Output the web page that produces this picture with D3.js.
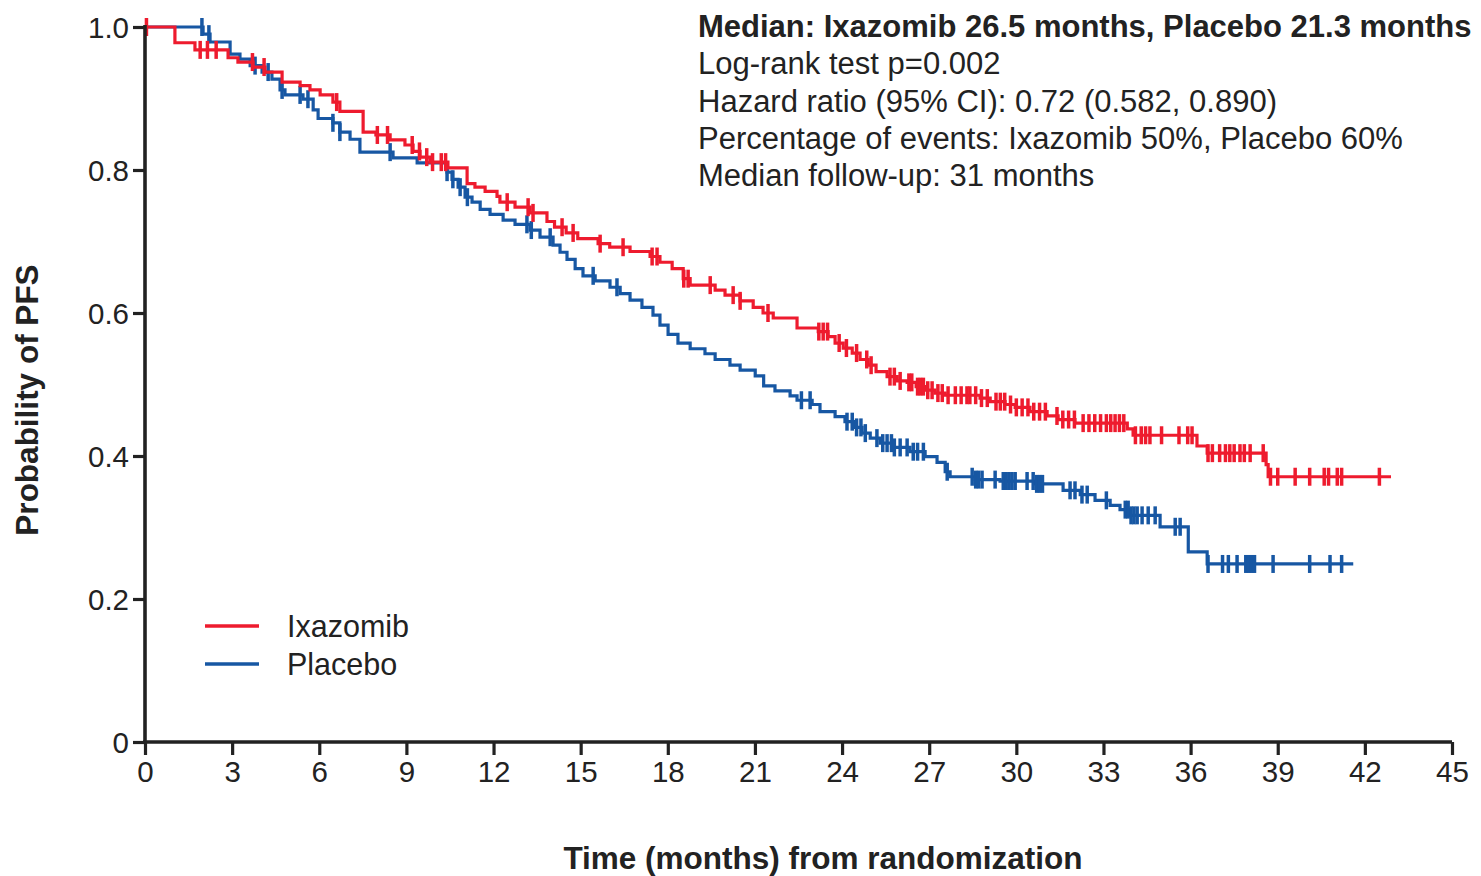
<!DOCTYPE html>
<html>
<head>
<meta charset="utf-8">
<script src="https://cdn.jsdelivr.net/npm/d3@7"></script>
<style>
  html, body { margin: 0; padding: 0; background: #ffffff; }
  svg { display: block; }
  text { font-family: "Liberation Sans", Arial, Helvetica, sans-serif; fill: #222; }
</style>
</head>
<body>
<svg id="chart" width="1481" height="876"></svg>
<script>
// Kaplan–Meier step data: [time (months), survival after the event]
const ixazomibSteps = [
  [1.03,.978],[1.72,.968],[2.86,.957],[3.2,.951],[3.72,.944],[4.13,.937],[4.72,.923],[5.34,.918],
  [5.68,.912],[6.03,.905],[6.47,.895],[6.71,.882],[7.51,.853],[7.95,.849],[8.44,.842],[8.95,.835],
  [9.23,.826],[9.47,.818],[9.81,.811],[10.43,.803],[11.09,.781],[11.36,.776],[11.71,.770],[12.12,.763],
  [12.22,.755],[12.74,.748],[13.26,.740],[13.84,.728],[14.1,.720],[14.5,.712],[14.9,.704],[15.6,.697],
  [16.0,.692],[16.7,.686],[17.39,.679],[17.73,.671],[18.15,.662],[18.53,.648],[18.77,.639],[19.63,.632],
  [19.97,.625],[20.49,.617],[20.94,.608],[21.28,.600],[21.63,.593],[22.45,.579],[23.18,.574],[23.52,.567],
  [23.76,.558],[24.04,.551],[24.35,.544],[24.62,.535],[24.9,.527],[25.17,.518],[25.55,.511],[25.9,.505],
  [26.24,.503],[26.55,.497],[26.9,.492],[27.2,.488],[27.55,.485],[28.75,.481],[29.1,.476],[29.61,.472],
  [29.96,.468],[30.47,.462],[31.06,.456],[31.44,.451],[32.02,.446],[33.82,.438],[34.02,.429],[36.22,.414],
  [36.57,.404],[38.6,.388],[38.67,.371]
];
const ixazomibCensored = [
  0.05,1.9,2.15,2.45,3.7,4.1,6.6,8.0,8.35,9.2,9.45,9.7,9.9,10.2,10.35,12.47,13.19,13.36,14.36,14.74,
  15.67,16.46,17.46,17.63,18.55,18.7,19.46,20.25,20.49,21.45,23.2,23.35,23.5,23.9,24.15,24.5,24.85,25.0,
  25.65,25.8,26.0,26.3,26.4,26.6,26.7,26.8,26.95,27.1,27.3,27.45,27.65,27.9,28.1,28.3,28.4,28.6,28.8,
  29.0,29.3,29.45,29.6,29.8,30.0,30.2,30.4,30.6,30.8,31.0,31.4,31.6,31.8,32.0,32.3,32.5,32.7,32.9,33.1,
  33.25,33.4,33.55,33.7,34.1,34.3,34.45,34.6,35.0,35.6,35.9,36.05,36.6,36.75,37.0,37.2,37.35,37.5,37.7,
  37.85,38.05,38.5,38.75,39.0,39.6,40.1,40.6,40.75,41.05,41.2,42.5
];
const ixazomibLastTime = 42.9;

const placeboSteps = [
  [2.0,.990],[2.24,.979],[2.93,.962],[3.27,.955],[3.62,.946],[4.03,.937],[4.37,.927],[4.65,.912],
  [4.82,.905],[5.44,.899],[5.79,.884],[5.96,.872],[6.47,.866],[6.71,.853],[7.06,.843],[7.4,.825],
  [8.54,.817],[9.37,.810],[10.4,.797],[10.57,.787],[10.78,.776],[11.02,.762],[11.26,.755],[11.54,.745],
  [11.88,.738],[12.33,.730],[12.74,.724],[13.26,.716],[13.6,.706],[14.05,.695],[14.29,.685],[14.53,.675],
  [14.81,.662],[15.08,.652],[15.5,.645],[16.01,.636],[16.36,.627],[16.7,.618],[17.11,.608],[17.49,.597],
  [17.73,.583],[18.01,.570],[18.35,.558],[18.77,.550],[19.28,.543],[19.63,.535],[20.14,.527],[20.49,.520],
  [21.01,.512],[21.3,.498],[21.69,.491],[22.21,.484],[22.45,.478],[22.97,.472],[23.24,.462],[23.76,.455],
  [24.1,.448],[24.45,.440],[24.69,.432],[24.97,.425],[25.31,.418],[25.76,.412],[26.34,.406],[26.86,.399],
  [27.27,.391],[27.55,.378],[27.72,.371],[28.58,.367],[29.44,.365],[30.65,.361],[31.61,.352],[32.2,.346],
  [32.71,.338],[33.23,.331],[33.57,.325],[33.92,.317],[34.95,.301],[35.92,.266],[36.57,.249]
];
const placeboCensored = [
  1.96,2.2,3.79,4.24,4.72,5.34,5.61,6.47,6.71,8.44,10.4,10.6,10.85,11.1,13.15,13.3,13.95,15.43,16.25,
  22.6,22.9,24.17,24.35,24.5,24.65,24.8,25.2,25.4,25.55,25.7,25.8,26.0,26.24,26.45,26.6,26.8,27.62,28.48,
  28.6,28.7,28.82,29.27,29.55,29.65,29.75,29.85,29.96,30.37,30.58,30.7,30.8,30.9,31.85,32.02,32.26,32.44,
  33.1,33.75,33.85,33.95,34.05,34.16,34.33,34.54,34.78,35.47,35.64,36.6,37.1,37.3,37.6,37.9,38.0,38.1,
  38.2,38.84,40.1,40.8,41.2
];
const placeboLastTime = 41.6;

const xTickValues = [0,3,6,9,12,15,18,21,24,27,30,33,36,39,42,45];
const yTickValues = [0,0.2,0.4,0.6,0.8,1.0];
const yTickLabels = ["0","0.2","0.4","0.6","0.8","1.0"];

const statsLines = [
  "Median: Ixazomib 26.5 months, Placebo 21.3 months",
  "Log-rank test p=0.002",
  "Hazard ratio (95% CI): 0.72 (0.582, 0.890)",
  "Percentage of events: Ixazomib 50%, Placebo 60%",
  "Median follow-up: 31 months"
];
const seriesNames = ["Ixazomib", "Placebo"];
const seriesColors = ["#ee1b2e", "#1757a3"];

const svg = d3.select("#chart");
const x = d3.scaleLinear().domain([0, 45]).range([145, 1452]);
const y = d3.scaleLinear().domain([0, 1]).range([742, 27]);
const axisColor = "#222";

// Survival curves
function curvePoints(steps, lastTime) {
  const pts = [[0, 1]];
  steps.forEach(d => pts.push(d));
  pts.push([lastTime, steps[steps.length - 1][1]]);
  return pts;
}
function survivalAt(steps, t) {
  let s = 1;
  for (const d of steps) { if (d[0] <= t) s = d[1]; else break; }
  return s;
}
const line = d3.line().x(d => x(d[0])).y(d => y(d[1])).curve(d3.curveStepAfter);

const series = [
  { steps: placeboSteps, censored: placeboCensored, last: placeboLastTime, color: seriesColors[1] },
  { steps: ixazomibSteps, censored: ixazomibCensored, last: ixazomibLastTime, color: seriesColors[0] }
];

series.forEach(sr => {
  const g = svg.append("g");
  g.append("path")
    .attr("d", line(curvePoints(sr.steps, sr.last)))
    .attr("fill", "none")
    .attr("stroke", sr.color)
    .attr("stroke-width", 3.2)
    .attr("stroke-linejoin", "miter");
  g.selectAll("line.cens")
    .data(sr.censored)
    .join("line")
    .attr("class", "cens")
    .attr("x1", d => x(d)).attr("x2", d => x(d))
    .attr("y1", d => y(survivalAt(sr.steps, d)) - 9)
    .attr("y2", d => y(survivalAt(sr.steps, d)) + 9)
    .attr("stroke", sr.color)
    .attr("stroke-width", 3.5);
});

// Axes
const xAxis = d3.axisBottom(x).tickValues(xTickValues).tickSize(13).tickPadding(6).tickSizeOuter(0);
const yAxis = d3.axisLeft(y).tickValues(yTickValues).tickSize(12).tickPadding(4).tickSizeOuter(0)
  .tickFormat((d, i) => yTickLabels[i]);

const gx = svg.append("g").attr("transform", "translate(0,742)").call(xAxis);
const gy = svg.append("g").attr("transform", "translate(145,0)").call(yAxis);
[gx, gy].forEach(g => {
  g.select(".domain").attr("stroke", axisColor).attr("stroke-width", 3.6);
  g.selectAll(".tick line").attr("stroke", axisColor).attr("stroke-width", 3.2);
  g.selectAll(".tick text").attr("fill", axisColor)
    .style("font-family", '"Liberation Sans", Arial, sans-serif').style("font-size", "29.5px");
});
gy.select(".domain").attr("d", "M0,742V25");
gx.select(".domain").attr("d", "M143,0H1452");
gy.selectAll(".tick text").attr("dy", "0.36em");

// Axis titles
svg.append("text")
  .attr("x", 823).attr("y", 869)
  .attr("text-anchor", "middle")
  .style("font-size", "31.5px").style("font-weight", "bold")
  .text("Time (months) from randomization");
svg.append("text")
  .attr("transform", "translate(38,400) rotate(-90)")
  .attr("text-anchor", "middle")
  .style("font-size", "31.5px").style("font-weight", "bold")
  .text("Probability of PFS");

// Summary statistics
svg.append("g").selectAll("text")
  .data(statsLines)
  .join("text")
  .attr("x", 698)
  .attr("y", (d, i) => 37 + i * 37.3)
  .style("font-size", "31px")
  .style("font-weight", (d, i) => i === 0 ? "bold" : "normal")
  .text(d => d);

// Legend
const legend = svg.append("g");
seriesNames.forEach((name, i) => {
  const ly = 626 + i * 38;
  legend.append("line")
    .attr("x1", 205).attr("x2", 259).attr("y1", ly).attr("y2", ly)
    .attr("stroke", seriesColors[i]).attr("stroke-width", 3.5);
  legend.append("text")
    .attr("x", 287).attr("y", ly).attr("dy", "0.36em")
    .style("font-size", "30.5px")
    .text(name);
});
</script>
</body>
</html>
